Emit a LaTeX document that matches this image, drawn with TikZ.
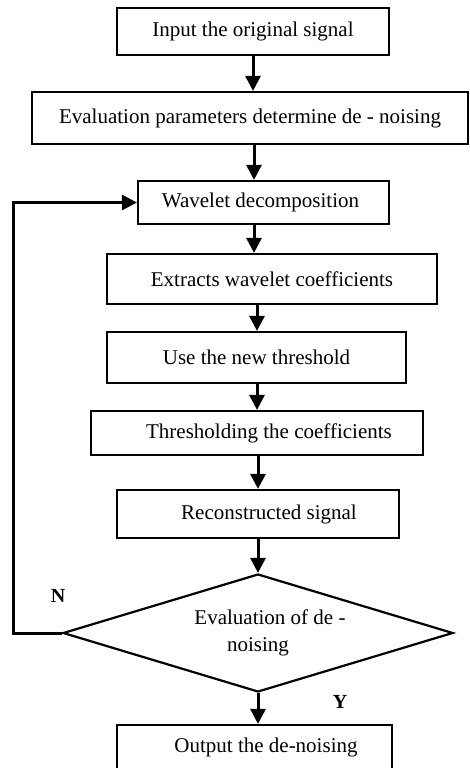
\documentclass[tikz,border=0pt]{standalone}
\usepackage{fontspec}
\setmainfont{Liberation Serif}
\usetikzlibrary{arrows.meta,shapes.geometric}
\begin{document}
\begin{tikzpicture}[x=1pt,y=-1pt,
  every node/.style={font=\fontsize{21}{27}\selectfont},
  box/.style={draw,line width=2.2pt,rectangle,inner sep=0pt,anchor=center},
  decision/.style={draw,line width=2.2pt,diamond,inner sep=0pt,aspect=3.3,
    minimum width=390pt,minimum height=118pt,align=center},
  arr/.style={line width=3pt,-{Triangle[length=15pt,width=15pt]}},
  yn/.style={font=\fontsize{20}{24}\selectfont\bfseries}]
\useasboundingbox (0,0) rectangle (469,768);

% process boxes, top to bottom
\node[box,minimum width=272pt,minimum height=47pt] (b1) at (253,31.5) {\raisebox{-2pt}{Input the original signal}};
\node[box,minimum width=436pt,minimum height=52pt] (b2) at (250,118) {\raisebox{-2pt}{Evaluation parameters determine de - noising}};
\node[box,minimum width=251pt,minimum height=43pt] (b3) at (263.5,202.5) {\hspace*{-6pt}Wavelet decomposition};
\node[box,minimum width=330pt,minimum height=50pt] (b4) at (272,279) {\raisebox{-2pt}{Extracts wavelet coefficients}};
\node[box,minimum width=299pt,minimum height=51pt] (b5) at (256.5,357.5) {\raisebox{-2pt}{Use the new threshold}};
\node[box,minimum width=332pt,minimum height=44pt] (b6) at (257,433) {\hspace*{24pt}Thresholding the coefficients};
\node[box,minimum width=282pt,minimum height=48pt] (b7) at (258,514) {\hspace*{22pt}\raisebox{-2pt}{Reconstructed signal}};
\node[decision] (dia) at (258,633) {\hspace*{24pt}Evaluation of de -\\noising};
\node[box,minimum width=275pt,minimum height=45pt] (b9) at (254.5,747.5) {\hspace*{23pt}Output the de-noising};

% columns of the vertical connectors
\coordinate (c1) at (253,0);
\coordinate (c2) at (254,0);
\coordinate (c3) at (257,0);
\coordinate (c4) at (258,0);
\coordinate (lx) at (13,0);

\draw[arr] (b1.south -| c1) -- (b2.north -| c1);
\draw[arr] (b2.south -| c2) -- (b3.north -| c2);
\draw[arr] (b3.south -| c2) -- (b4.north -| c2);
\draw[arr] (b4.south -| c3) -- (b5.north -| c3);
\draw[arr] (b5.south -| c3) -- (b6.north -| c3);
\draw[arr] (b6.south -| c4) -- (b7.north -| c4);
\draw[arr] (b7.south -| c4) -- (dia.north);
\draw[arr] (dia.south) -- (b9.north -| dia.south);

% feedback loop when the result is not good enough
\draw[arr] (dia.west) -- (dia.west -| lx) |- (b3.west);

\node[yn] (lN) at (58,596) {N};
\node[yn] (lY) at (340,702) {Y};
\end{tikzpicture}
\end{document}
